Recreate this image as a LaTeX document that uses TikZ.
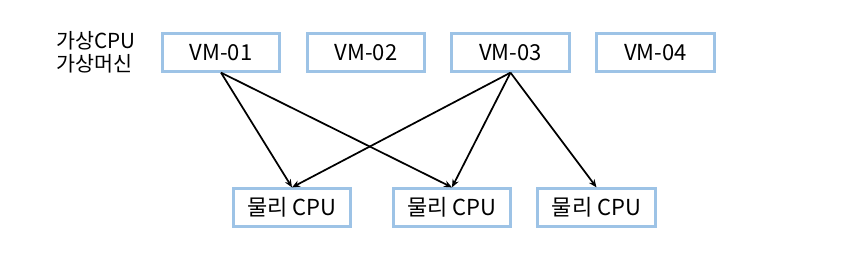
\documentclass[tikz,border=0pt]{standalone}
\usepackage{fontspec}
\setmainfont{Noto Sans CJK KR}
\usetikzlibrary{arrows.meta, positioning}
\definecolor{boxblue}{HTML}{9DC3E6}

\begin{document}
\begin{tikzpicture}[x=0.75pt, y=-0.75pt, font=\fontsize{16.5}{18}\selectfont,
    cpubox/.style={draw=boxblue, line width=2.2pt, minimum width=88pt, minimum height=28pt, inner sep=0pt},
    link/.style={-{Stealth[length=6pt, width=5pt]}, line width=1.3pt}]
    \useasboundingbox (0,0) rectangle (864,255);
    % virtual machines
    \node[align=left, font=\fontsize{15.5}{17}\selectfont] (label) at (96,52) {가상CPU\\가상머신};
    \node[cpubox] (vm1) at (221,52.5) {VM-01};
    \node[cpubox] (vm2) at (366,52.5) {VM-02};
    \node[cpubox] (vm3) at (510.5,52.5) {VM-03};
    \node[cpubox] (vm4) at (655.5,52.5) {VM-04};
    % physical cpus
    \node[cpubox] (p1) at (292,207.5) {물리 CPU};
    \node[cpubox] (p2) at (452,207.5) {물리 CPU};
    \node[cpubox] (p3) at (596.5,207.5) {물리 CPU};
    \draw[link] (vm1.south) -- (p1.north);
    \draw[link] (vm1.south) -- (p2.north);
    \draw[link] (vm3.south) -- (p1.north);
    \draw[link] (vm3.south) -- (p2.north);
    \draw[link] (vm3.south) -- (p3.north);
\end{tikzpicture}
\end{document}
